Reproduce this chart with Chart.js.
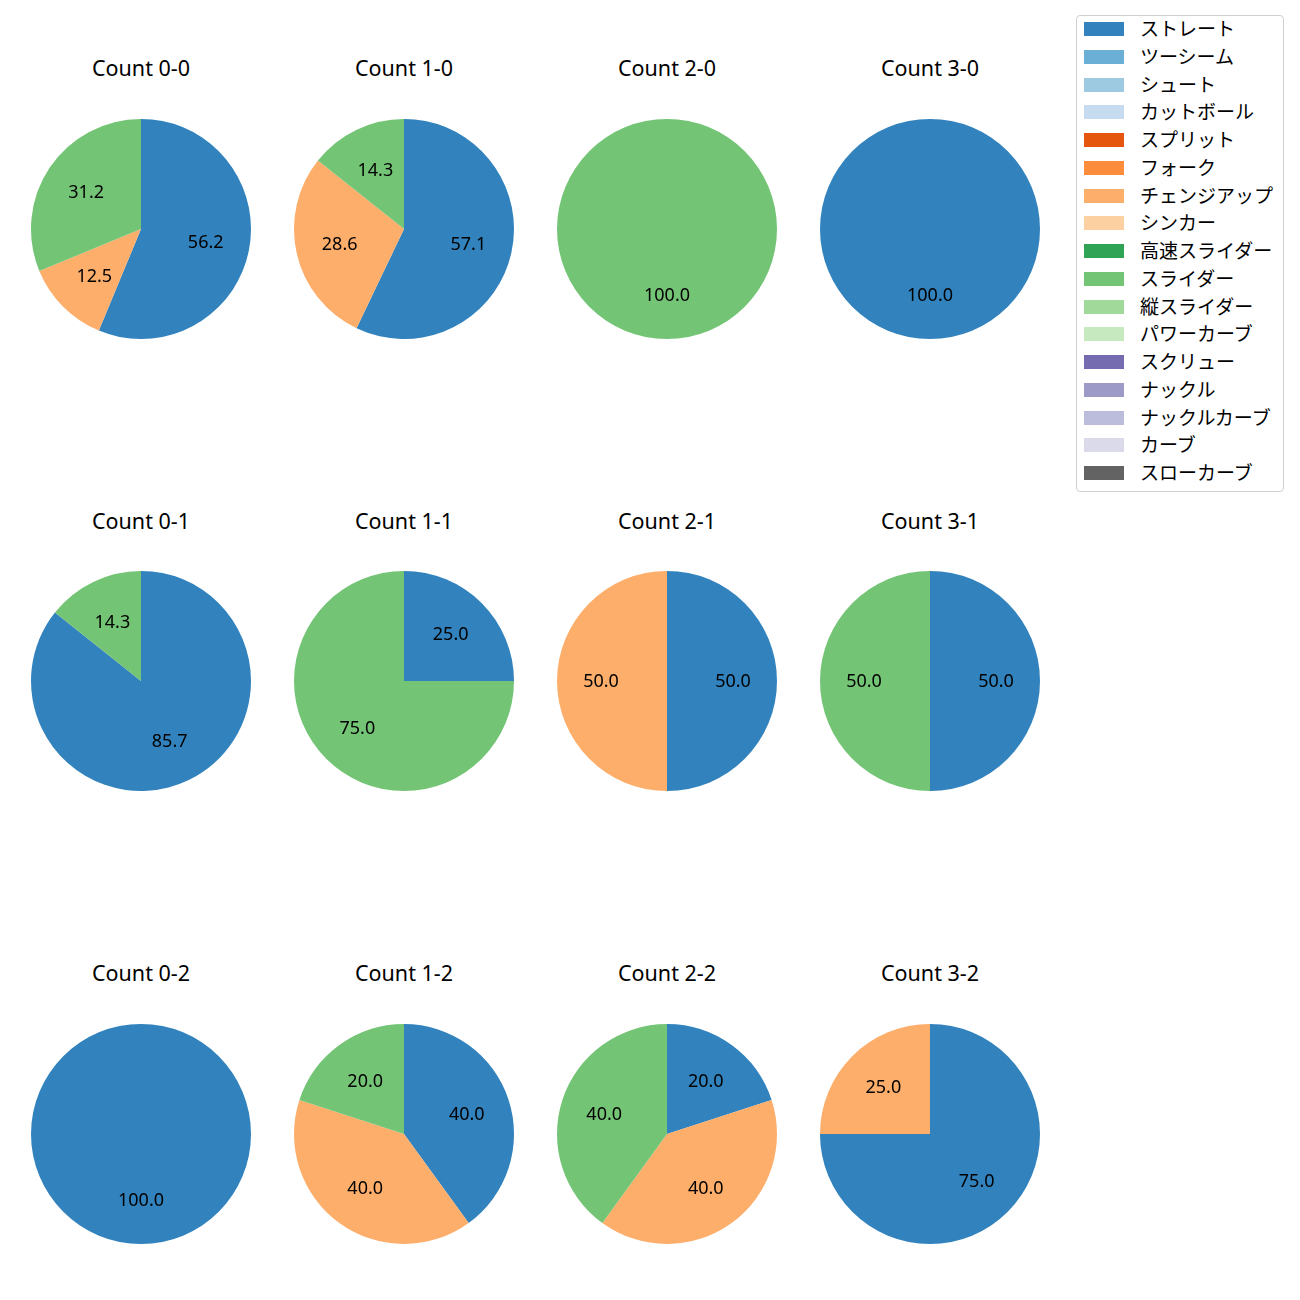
<!DOCTYPE html>
<html><head><meta charset="utf-8">
<script src="https://cdn.jsdelivr.net/npm/chart.js@4"></script>
<style>
html,body{margin:0;padding:0;background:#fff;}
body{width:1300px;height:1300px;position:relative;overflow:hidden;font-family:"Noto Sans","Noto Sans CJK JP",sans-serif;}
.t{position:absolute;width:240px;text-align:center;font-size:21.5px;line-height:24px;color:#000;}
canvas.p{position:absolute;}
#legend{position:absolute;left:1076px;top:15px;width:208px;height:477px;border:1px solid #d0d0d0;border-radius:4px;box-sizing:border-box;font-family:"Noto Sans CJK JP","Noto Sans",sans-serif;}
.li{position:absolute;left:0;height:20px;font-size:19px;line-height:20px;color:#000;white-space:nowrap;}
.sw{position:absolute;left:7px;top:3px;width:40px;height:14px;}
.lt{position:absolute;left:63px;top:-1px;}
</style></head><body>
<div id="legend"></div>
<script>
// Pitch types and colours
const pitchTypes = ["ストレート","ツーシーム","シュート","カットボール","スプリット","フォーク","チェンジアップ","シンカー","高速スライダー","スライダー","縦スライダー","パワーカーブ","スクリュー","ナックル","ナックルカーブ","カーブ","スローカーブ"];
const pitchColors = ["#3182bd","#6baed6","#9ecae1","#c6dbef","#e6550d","#fd8d3c","#fdae6b","#fdd0a2","#31a354","#74c476","#a1d99b","#c7e9c0","#756bb1","#9e9ac8","#bcbddc","#dadaeb","#636363"];
// Counts (panel order: rows strikes 0..2, columns balls 0..3)
const counts = ["Count 0-0","Count 1-0","Count 2-0","Count 3-0","Count 0-1","Count 1-1","Count 2-1","Count 3-1","Count 0-2","Count 1-2","Count 2-2","Count 3-2"];
// Percent shares per pitch type, per count
const straight   = [56.2, 57.1, 0,     100,   85.7, 25.0, 50.0, 50.0, 100,  40.0, 20.0, 75.0];
const changeup   = [12.5, 28.6, 0,     0,     0,    0,    50.0, 0,    0,    40.0, 40.0, 25.0];
const slider     = [31.2, 14.3, 100,   0,     14.3, 75.0, 0,    50.0, 0,    20.0, 40.0, 0];

function seriesFor(i){
  return pitchTypes.map(p => p==="ストレート" ? straight[i] : p==="チェンジアップ" ? changeup[i] : p==="スライダー" ? slider[i] : 0);
}

const colX = [141, 404, 667, 930];
const rowY = [229, 681, 1134];
const titleY = [68, 521, 973];

const pctLabels = {
  id:'pctLabels',
  afterDatasetsDraw(chart){
    const ctx = chart.ctx;
    const meta = chart.getDatasetMeta(0);
    const data = chart.data.datasets[0].data;
    ctx.save();
    ctx.font = '18px "Noto Sans", "Noto Sans CJK JP", sans-serif';
    ctx.fillStyle = '#000';
    ctx.textAlign = 'center';
    ctx.textBaseline = 'middle';
    meta.data.forEach((arc, k) => {
      if (!data[k]) return;
      const a = (arc.startAngle + arc.endAngle)/2;
      const r = arc.outerRadius*0.6;
      ctx.fillText(data[k].toFixed(1), arc.x + r*Math.cos(a), arc.y + r*Math.sin(a) + 1);
    });
    ctx.restore();
  }
};

counts.forEach((name, i) => {
  const c = i % 4, r = Math.floor(i/4);
  const t = document.createElement('div');
  t.className = 't'; t.textContent = name;
  t.style.left = (colX[c]-120)+'px'; t.style.top = (titleY[r]-12)+'px';
  document.body.appendChild(t);
  const cv = document.createElement('canvas');
  cv.className = 'p'; cv.width = 240; cv.height = 240;
  cv.style.width='240px'; cv.style.height='240px';
  cv.style.left = (colX[c]-120)+'px'; cv.style.top = (rowY[r]-120)+'px';
  document.body.appendChild(cv);
  new Chart(cv, {
    type:'pie',
    data:{labels:pitchTypes, datasets:[{data:seriesFor(i), backgroundColor:pitchColors, borderWidth:0}]},
    options:{responsive:false, animation:false, layout:{padding:10},
      plugins:{legend:{display:false}, tooltip:{enabled:false}}},
    plugins:[pctLabels]
  });
});

const lg = document.getElementById('legend');
pitchTypes.forEach((p, k) => {
  const d = document.createElement('div');
  d.className='li'; d.style.top = (14 + k*27.75 - 10 - 1)+'px';
  d.innerHTML = '<span class="sw" style="background:'+pitchColors[k]+'"></span><span class="lt"></span>';
  d.querySelector('.lt').textContent = p;
  lg.appendChild(d);
});
</script>
</body></html>
